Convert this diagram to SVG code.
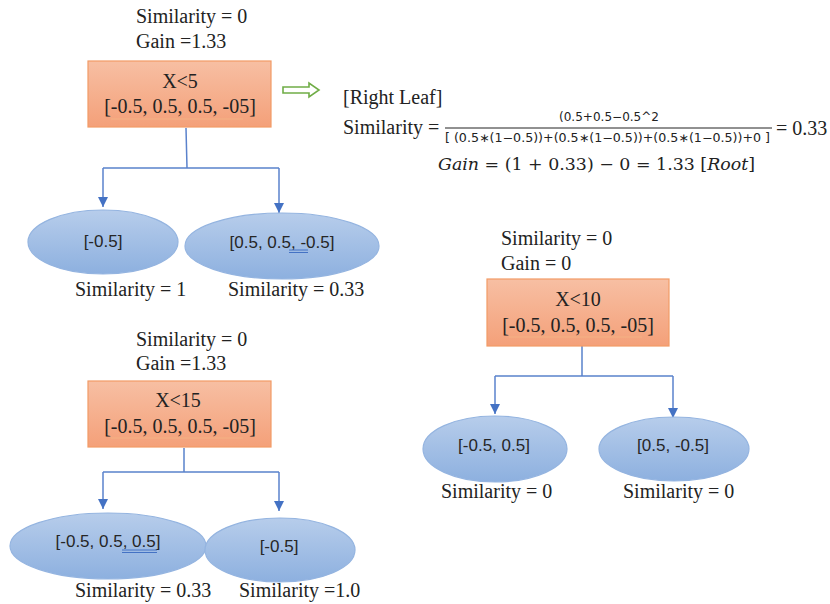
<svg xmlns="http://www.w3.org/2000/svg" width="830" height="604" viewBox="0 0 830 604">
<defs>
<linearGradient id="gBox" x1="0" y1="0" x2="0" y2="1"><stop offset="0" stop-color="#F7BFA3"/><stop offset="1" stop-color="#F4A079"/></linearGradient>
<linearGradient id="gEl" x1="0" y1="0" x2="0" y2="1"><stop offset="0" stop-color="#B7CDEB"/><stop offset="1" stop-color="#8DB0DF"/></linearGradient>
<marker id="ah" viewBox="0 0 10 10" refX="10" refY="5" markerWidth="10" markerHeight="10" markerUnits="userSpaceOnUse" orient="auto"><path d="M0,0 L10,5 L0,10 Z" fill="#4472C4"/></marker>
<style>
.t{font-family:"Liberation Serif","Times New Roman",serif;font-size:20px;fill:#222;}
.s{font-family:"Liberation Sans",Arial,sans-serif;font-size:17px;fill:#262626;text-anchor:middle;}
.m{font-family:"DejaVu Sans","Noto Sans",sans-serif;font-size:12px;fill:#222;}
.g{font-family:"DejaVu Serif","Liberation Serif",serif;font-size:17px;fill:#222;}
.box{fill:url(#gBox);stroke:#F29B66;stroke-width:1.2;}
.el{fill:url(#gEl);stroke:#94B4E0;stroke-width:1.2;}
.c{fill:none;stroke:#5A82CC;stroke-width:1.5;}
.ul{stroke:#F4B183;stroke-width:1.2;}
.bu{stroke:#4472C4;stroke-width:1;}
</style>
</defs>

<g id="connectors">
<path class="c" d="M186,128 L187,168 M103,168 L279,168"/>
<path class="c" d="M103,168 L103,207" marker-end="url(#ah)"/>
<path class="c" d="M279,168 L279,213" marker-end="url(#ah)"/>
<path class="c" d="M582,346 L582,376 M495,376 L673,376"/>
<path class="c" d="M495,376 L495,414" marker-end="url(#ah)"/>
<path class="c" d="M673,376 L673,418" marker-end="url(#ah)"/>
<path class="c" d="M184,448 L184,472 M103,472 L279,472"/>
<path class="c" d="M103,472 L103,509" marker-end="url(#ah)"/>
<path class="c" d="M279,472 L279,511" marker-end="url(#ah)"/>
</g>

<g id="root1">
<text class="t" x="136" y="23">Similarity = 0</text>
<text class="t" x="136" y="48">Gain =1.33</text>
<rect class="box" x="88" y="61" width="183" height="66"/>
<text class="t" x="180" y="88" text-anchor="middle">X&lt;5</text>
<text class="t" x="180" y="113" text-anchor="middle">[-0.5, 0.5, 0.5, -05]</text>
<line class="ul" x1="111" y1="119" x2="243" y2="119"/>
</g>

<g id="arrow-green">
<path d="M283,87 L309,87 L309,83 L319,90 L309,97 L309,93 L283,93 Z" fill="#fff" stroke="#70AD47" stroke-width="1.6"/>
</g>

<g id="formula">
<text class="t" x="343" y="104">[Right Leaf]</text>
<text class="t" x="343" y="134">Similarity =</text>
<text class="m" x="609" y="121" text-anchor="middle" textLength="100" lengthAdjust="spacingAndGlyphs">(0.5+0.5−0.5^2</text>
<line x1="445" y1="128" x2="772" y2="128" stroke="#222" stroke-width="1"/>
<text class="m" x="445" y="142" textLength="325" lengthAdjust="spacingAndGlyphs">[ (0.5∗(1−0.5))+(0.5∗(1−0.5))+(0.5∗(1−0.5))+0 ]</text>
<text class="t" x="776" y="135">= 0.33</text>
<text class="g" x="438" y="170" textLength="317" lengthAdjust="spacingAndGlyphs"><tspan font-style="italic">Gain</tspan> = (1 + 0.33) − 0 = 1.33 [<tspan font-style="italic">Root</tspan>]</text>
</g>

<g id="leaf1a">
<ellipse class="el" cx="103" cy="242" rx="75" ry="32"/>
<text class="s" x="103" y="247">[-0.5]</text>
<text class="t" x="75" y="296">Similarity = 1</text>
</g>
<g id="leaf1b">
<ellipse class="el" cx="282" cy="246" rx="97" ry="33"/>
<text class="s" x="282" y="248">[0.5, 0.5,  -0.5]</text>
<line class="bu" x1="289" y1="250" x2="308" y2="250"/>
<line class="bu" x1="289" y1="252.5" x2="308" y2="252.5"/>
<text class="t" x="228" y="296">Similarity = 0.33</text>
</g>

<g id="root2">
<text class="t" x="501" y="245">Similarity = 0</text>
<text class="t" x="501" y="270">Gain = 0</text>
<rect class="box" x="487" y="279" width="182" height="67"/>
<text class="t" x="578" y="306" text-anchor="middle">X&lt;10</text>
<text class="t" x="578" y="332" text-anchor="middle">[-0.5, 0.5, 0.5, -05]</text>
<line class="ul" x1="509" y1="337" x2="642" y2="337"/>
</g>
<g id="leaf2a">
<ellipse class="el" cx="495" cy="449" rx="72" ry="33"/>
<text class="s" x="494" y="451">[-0.5, 0.5]</text>
<text class="t" x="441" y="498">Similarity = 0</text>
</g>
<g id="leaf2b">
<ellipse class="el" cx="674" cy="449" rx="75" ry="32"/>
<text class="s" x="673" y="451">[0.5, -0.5]</text>
<text class="t" x="623" y="498">Similarity = 0</text>
</g>

<g id="root3">
<text class="t" x="136" y="346">Similarity = 0</text>
<text class="t" x="136" y="370">Gain =1.33</text>
<rect class="box" x="88" y="381" width="183" height="66"/>
<text class="t" x="178" y="407" text-anchor="middle">X&lt;15</text>
<text class="t" x="180" y="433" text-anchor="middle">[-0.5, 0.5, 0.5, -05]</text>
<line class="ul" x1="111" y1="438" x2="243" y2="438"/>
</g>
<g id="leaf3a">
<ellipse class="el" cx="108" cy="546" rx="98" ry="33"/>
<text class="s" x="108" y="547">[-0.5, 0.5,  0.5]</text>
<line class="bu" x1="122" y1="550" x2="157" y2="550"/>
<line class="bu" x1="122" y1="552.5" x2="157" y2="552.5"/>
<text class="t" x="75" y="597">Similarity = 0.33</text>
</g>
<g id="leaf3b">
<ellipse class="el" cx="280" cy="550" rx="75" ry="32"/>
<text class="s" x="279" y="552">[-0.5]</text>
<text class="t" x="239" y="597">Similarity =1.0</text>
</g>
</svg>
